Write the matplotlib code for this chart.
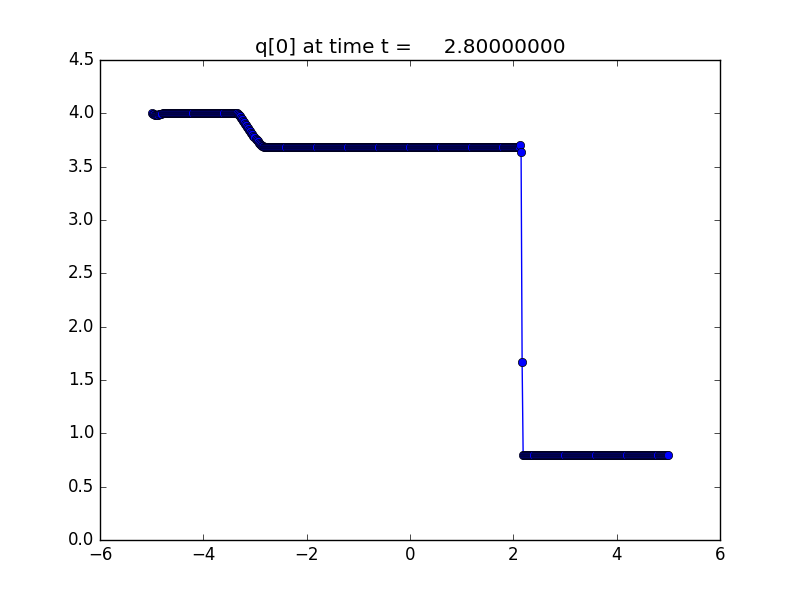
import numpy as np
import matplotlib
matplotlib.use("Agg")
import matplotlib.pyplot as plt

plt.style.use("classic")

# Grid (cell centers) of the finite-volume solution
x_lower, x_upper, num_cells = -5.0, 5.0, 500

# q[0] values, written as runs of cell values
left_end = [4.0, 3.997, 3.993, 3.988, 3.985, 3.985, 3.987, 3.99, 3.995, 3.998]
left_state = [4.0] * 73
rarefaction = [3.996, 3.985, 3.972, 3.958, 3.944, 3.93, 3.916, 3.902, 3.888,
               3.874, 3.86, 3.846, 3.832, 3.818, 3.804, 3.79, 3.776, 3.763,
               3.75, 3.738, 3.726, 3.715, 3.705, 3.697, 3.69, 3.685, 3.682]
middle_state = [3.68] * 246
shock = [3.70, 3.64, 1.67]
right_state = [0.8] * 141

q0 = left_end + left_state + rarefaction + middle_state + shock + right_state

title = "q[0] at time t =     2.80000000"

dx = (x_upper - x_lower) / num_cells
xc = np.linspace(x_lower + dx / 2, x_upper - dx / 2, num_cells)

fig = plt.figure(figsize=(8, 6), dpi=100)
ax = fig.add_axes([0.125, 0.1, 0.775, 0.8])
ax.plot(xc, q0, "b-", lw=1.0, marker="o", markersize=6,
        markerfacecolor="b", markeredgecolor="k", markeredgewidth=0.5)
ax.set_xlim(-6, 6)
ax.set_ylim(0, 4.5)
ax.set_xticks(np.arange(-6, 7, 2))
ax.set_yticks(np.arange(0, 4.51, 0.5))
ax.set_title(title)
fig.savefig("out.png", dpi=100)
